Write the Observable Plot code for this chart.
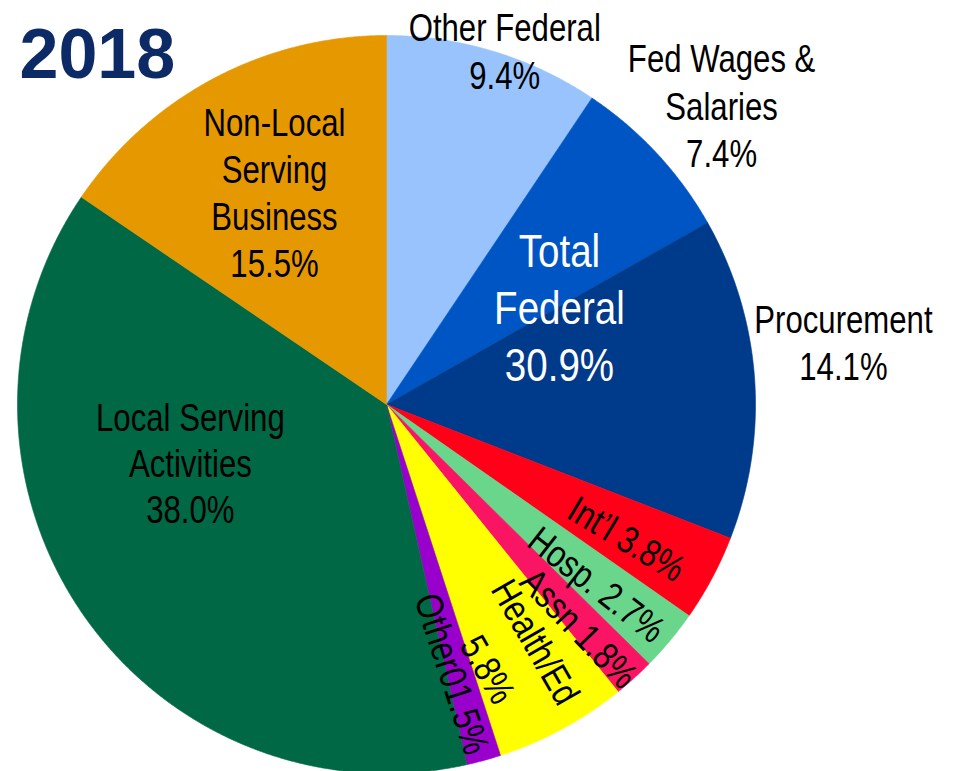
<!DOCTYPE html>
<html><head><meta charset="utf-8">
<script src="https://cdn.jsdelivr.net/npm/d3@7"></script>
<script src="https://cdn.jsdelivr.net/npm/@observablehq/plot@0.6"></script>
<style>body{margin:0;background:#fff;} #chart svg{display:block;}</style>
</head><body><div id="chart"></div>
<script>
// ---- data ----
const categories = ["Other Federal","Fed Wages & Salaries","Procurement","Int'l","Hosp.","Assn","Health/Ed","Other","Local Serving Activities","Non-Local Serving Business"];
const shares = [9.4, 7.4, 14.1, 3.8, 2.7, 1.8, 5.8, 1.5, 38.0, 15.5];
const labelNames = ["Other Federal\n","Fed Wages &\nSalaries\n","Procurement\n","Int\u2019l ","Hosp. ","Assn ","Health/Ed\n","Other0","Local Serving\nActivities\n","Non-Local\nServing\nBusiness\n"];
const federalGroup = ["Other Federal","Fed Wages & Salaries","Procurement"];
const totalName = "Total\nFederal\n";
const title = "2018";

// ---- styles ----
const colors = ["#99c3fc","#0055c4","#003a8a","#ff0018","#6ad68c","#fa1464","#ffff00","#9900cc","#006844","#e69800"];
const FONT = "'Liberation Sans',Arial,sans-serif";
const NARROW = 0.82; // horizontal compression to mimic Arial Narrow
// per-label layout: angle offset (deg) from slice mid-angle, radius factor, rotation, line height
const layout = [
  {dA: 1.5, r: 1.014, rot: 0, lh: 1.26},
  {dA: 1.0, r: 1.219, rot: 0, lh: 1.25},
  {dA: -3.7, r: 1.250, rot: 0, lh: 1.24},
  {dA: 0.8, r: 0.746, rot: 31, lh: 1.2},
  {dA: 0.5, r: 0.75, rot: 38, lh: 1.2},
  {dA: 1.1, r: 0.80, rot: 46, lh: 1.2},
  {dA: 1.0, r: 0.76, rot: 60, lh: 1.45},
  {dA: 1.3, r: 0.751, rot: 72, lh: 1.2},
  {dA: 17.8, r: 0.554, rot: 0, lh: 1.21},
  {dA: 0.2, r: 0.653, rot: 0, lh: 1.24}
];
const totalLayout = {dA: 4.6, r: 0.540, lh: 1.21};

// ---- geometry via d3.pie ----
const W = 955, H = 771, CX = 386, CY = 404, R = 369;
const slices = categories.map((c, i) => ({key: c, share: shares[i], color: colors[i], name: labelNames[i]}));
const arcs = d3.pie().sort(null).value(d => d.share)(slices);
const pts = [];
arcs.forEach(a => {
  pts.push({key: a.data.key, color: a.data.color, x: 0, y: 0});
  const n = Math.max(4, Math.ceil((a.endAngle - a.startAngle) / 0.005));
  for (let k = 0; k <= n; k++) {
    const t = a.startAngle + (a.endAngle - a.startAngle) * k / n;
    pts.push({key: a.data.key, color: a.data.color, x: Math.sin(t), y: Math.cos(t)});
  }
  pts.push({key: a.data.key, color: a.data.color, x: 0, y: 0});
});
const deg = Math.PI / 180;
const labels = arcs.map((a, i) => {
  const L = layout[i];
  const ang = (a.startAngle + a.endAngle) / 2 + L.dA * deg;
  return {x: L.r * Math.sin(ang), y: L.r * Math.cos(ang), text: a.data.name + a.data.share.toFixed(1) + "%", rot: L.rot, lh: L.lh};
});
const fedArcs = arcs.filter(a => federalGroup.includes(a.data.key));
const fedShare = d3.sum(fedArcs, a => a.data.share);
const fedAng = (d3.min(fedArcs, a => a.startAngle) + d3.max(fedArcs, a => a.endAngle)) / 2 + totalLayout.dA * deg;
const totalLabel = {x: totalLayout.r * Math.sin(fedAng), y: totalLayout.r * Math.cos(fedAng), text: totalName + fedShare.toFixed(1) + "%"};

const chart = Plot.plot({
  width: W, height: H,
  margin: 0,
  x: {domain: [-CX / R, (W - CX) / R], axis: null},
  y: {domain: [-(H - CY) / R, CY / R], axis: null},
  color: {type: "identity"},
  style: {background: "#fff", overflow: "hidden"},
  marks: [
    Plot.line(pts, {x: "x", y: "y", z: "key", fill: "color", stroke: "color", strokeWidth: 0.6, curve: "linear"}),
    ...labels.map(l => Plot.text([l], {x: "x", y: "y", text: "text", rotate: l.rot, lineHeight: l.lh, className: "narrow",
      fontSize: 38, fontFamily: FONT, fill: "#000", textAnchor: "middle", lineAnchor: "middle"})),
    Plot.text([totalLabel], {x: "x", y: "y", text: "text", lineHeight: totalLayout.lh, className: "narrow",
      fontSize: 47, fontFamily: FONT, fill: "#fff", textAnchor: "middle", lineAnchor: "middle"}),
    Plot.text([title], {frameAnchor: "top-left", dx: 19, dy: 28, text: d => d, textAnchor: "start", lineAnchor: "top",
      fontSize: 70, fontWeight: "bold", fontFamily: FONT, fill: "#0b2a66"})
  ]
});
// compress label glyphs horizontally (in each text's own frame) to mimic a narrow face
chart.querySelectorAll("g.narrow text").forEach(t => {
  const xa = t.getAttribute("x");
  const x = xa != null && /^-?[\d.]+$/.test(xa) ? +xa : 0;
  if (x) t.removeAttribute("x");
  const tr = t.getAttribute("transform") || "";
  t.setAttribute("transform", `${tr} translate(${x},0) scale(${NARROW},1)`);
});
document.getElementById("chart").appendChild(chart);
</script>
</body></html>
